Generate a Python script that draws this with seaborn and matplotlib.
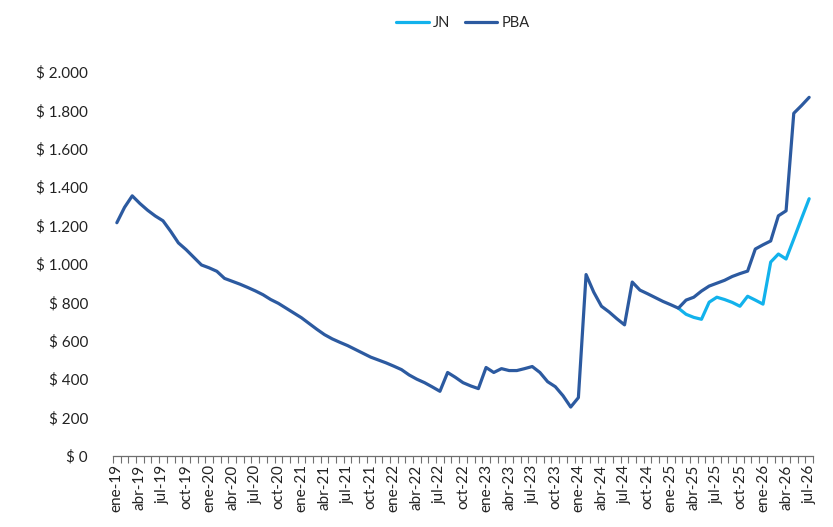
import matplotlib
matplotlib.use("Agg")
import matplotlib.pyplot as plt
import seaborn as sns
import pandas as pd
import numpy as np

# Monthly categories ene-19 .. jul-26
month_abbr = ["ene", "feb", "mar", "abr", "may", "jun",
              "jul", "ago", "sep", "oct", "nov", "dic"]
months = [f"{month_abbr[m]}-{y % 100:02d}" for y in range(2019, 2027)
          for m in range(12)][:91]

pba = [
    1215, 1295, 1355, 1315, 1280, 1250, 1225, 1170, 1110, 1075,
    1035, 995, 980, 962, 925, 910, 895, 878, 860, 840,
    815, 795, 770, 745, 720, 690, 660, 632, 610, 592,
    575, 555, 535, 515, 500, 485, 468, 450, 422, 400,
    382, 360, 337, 435, 410, 382, 365, 351, 461, 435,
    455, 445, 445, 455, 466, 435, 387, 361, 314, 255,
    304, 945, 853, 780, 750, 715, 683, 906, 864, 845,
    825, 805, 788, 770, 812, 827, 859, 885, 900, 915,
    935, 950, 963, 1078, 1100, 1120, 1251, 1277, 1785, 1825,
    1868,
]

# JN series starts where it splits from PBA (feb-25)
jn_start = 73
jn = [770, 738, 722, 712, 801, 827, 815, 800, 780, 832,
      812, 791, 1010, 1052, 1026, 1130, 1236, 1340]

tick_labels = months[::3]

df = pd.concat([
    pd.DataFrame({"idx": np.arange(jn_start, jn_start + len(jn)),
                  "valor": jn, "serie": "JN"}),
    pd.DataFrame({"idx": np.arange(len(pba)), "valor": pba, "serie": "PBA"}),
])

sns.set_theme(style="white")
plt.rcParams["font.family"] = ["Lato", "DejaVu Sans"]

fig = plt.figure(figsize=(8.33, 5.27), dpi=100)
ax = fig.add_axes([113 / 833, 71 / 527, 700 / 833, 384 / 527])

palette = {"JN": "#12B2EC", "PBA": "#2C5AA0"}
sns.lineplot(data=df, x="idx", y="valor", hue="serie", palette=palette,
             linewidth=2.3, ax=ax, legend=True, sort=True)

ax.set_xlim(-0.5, len(pba) - 0.5)
ax.set_ylim(0, 2000)
ax.set_xlabel("")
ax.set_ylabel("")

# y axis: currency labels, no line
yt = np.arange(0, 2001, 200)
ax.set_yticks(yt)
ax.set_yticklabels([("$ " + f"{v:,}".replace(",", ".")) for v in yt],
                   fontsize=11, color="#222222")
ax.tick_params(axis="y", length=0, pad=18)

# x axis: labels every quarter, tick marks between months
ax.set_xticks(np.arange(0, len(pba), 3))
ax.set_xticklabels(tick_labels, rotation=90, fontsize=11, color="#222222")
ax.set_xticks(np.arange(-0.5, len(pba), 1), minor=True)
ax.tick_params(axis="x", which="major", length=0, pad=6)
ax.tick_params(axis="x", which="minor", length=5, width=0.8,
               color="#6f6f6f", direction="out", bottom=True)

for s in ["top", "right", "left"]:
    ax.spines[s].set_visible(False)
ax.spines["bottom"].set_color("#6f6f6f")
ax.spines["bottom"].set_linewidth(0.9)

leg = ax.legend(loc="upper center", bbox_to_anchor=(0.5, 1.18), ncol=2,
                frameon=False, fontsize=10.5, handlelength=2.2,
                columnspacing=1.0, handletextpad=0.3)
for h in leg.get_lines():
    h.set_linewidth(2.3)

fig.savefig("out.png", dpi=100)
